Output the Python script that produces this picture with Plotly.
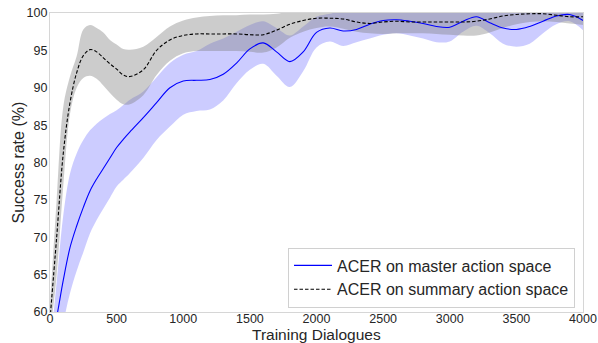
import plotly.graph_objects as go

# Training dialogues (x grid)
x = [0, 50, 100, 150, 200, 250, 300, 350, 400, 450, 500, 550, 600, 700, 800, 900,
     1000, 1100, 1200, 1300, 1400, 1500, 1600, 1700, 1800, 1900, 2000, 2100, 2200,
     2300, 2400, 2500, 2600, 2700, 2800, 2900, 3000, 3100, 3200, 3300, 3400, 3500,
     3600, 3700, 3800, 3900, 4000]

# ACER on master action space
master_mean = [55, 59.3, 64.3, 68.6, 71.5, 74.0, 76.2, 77.8, 79.2, 80.6, 82.0, 83.1, 84.1,
               86.0, 88.0, 90.0, 90.9, 91.0, 91.1, 91.8, 93.3, 95.2, 96.0, 94.8, 93.5,
               94.8, 97.4, 98.0, 97.6, 97.8, 98.5, 99.0, 99.1, 98.9, 98.6, 98.2, 98.1,
               98.9, 99.5, 98.7, 98.0, 97.8, 98.2, 98.9, 99.6, 99.8, 99.0]
master_lower = [48, 53, 58.5, 62.5, 65.5, 68.0, 70.5, 72.3, 73.8, 75.3, 76.8, 77.7, 78.6,
                80.6, 83.0, 84.8, 86.4, 86.9, 87.1, 88.3, 90.6, 92.4, 93.2, 91.6, 90.1,
                92.2, 95.4, 96.2, 95.6, 96.1, 96.6, 97.1, 97.3, 97.0, 96.6, 96.1, 96.2,
                97.5, 98.3, 97.3, 95.9, 95.5, 95.9, 97.3, 98.5, 98.9, 97.7]
master_upper = [55, 64, 73, 78.5, 81.2, 83.0, 84.3, 85.2, 85.9, 86.5, 87.0, 87.7, 88.4,
                89.5, 91.4, 93.3, 94.4, 94.9, 95.9, 96.6, 97.5, 98.4, 98.9, 98.0, 97.0,
                98.2, 99.5, 99.9, 100.3, 100.3, 100.3, 100.3, 100.3, 100.3, 100.3, 100.3,
                100.3, 100.3, 100.3, 100.3, 100.3, 100.3, 100.3, 100.3, 100.3, 100.3, 100.3]

# ACER on summary action space
summary_mean = [59, 70, 81.3, 88.0, 92.0, 94.3, 95.1, 94.8, 94.0, 93.2, 92.5, 91.7, 91.5,
                92.4, 95.0, 96.4, 97.0, 97.2, 97.2, 97.2, 97.2, 97.1, 97.1, 97.7, 98.5,
                99.0, 99.3, 99.3, 99.2, 98.8, 98.6, 98.8, 98.9, 98.8, 98.8, 98.8, 98.8,
                98.8, 98.9, 99.2, 99.6, 99.8, 99.9, 99.9, 99.7, 99.5, 99.5]
summary_lower = [57, 65, 77, 86.5, 90.0, 91.3, 91.6, 91.2, 90.3, 89.3, 88.4, 87.8, 87.8,
                 89.0, 91.7, 93.6, 94.6, 94.9, 94.9, 94.9, 94.9, 94.8, 94.7, 95.4, 96.7,
                 97.5, 98.0, 98.2, 97.9, 97.5, 97.3, 97.2, 97.3, 97.3, 97.3, 97.2, 97.1,
                 97.0, 97.0, 97.4, 98.0, 98.5, 98.8, 98.9, 98.8, 98.6, 98.4]
summary_upper = [61, 75, 87.5, 91.5, 94.2, 97.8, 98.4, 98.0, 97.4, 96.4, 95.8, 95.2, 95.1,
                 95.5, 96.8, 98.2, 99.0, 99.4, 99.6, 99.7, 99.7, 99.8, 99.8, 99.9, 100.2,
                 100.3, 100.3, 100.3, 100.3, 100.3, 100.3, 100.3, 100.3, 100.3, 100.3,
                 100.3, 100.3, 100.3, 100.3, 100.3, 100.3, 100.3, 100.3, 100.3, 100.3,
                 100.3, 100.3]

x_ticks = [0, 500, 1000, 1500, 2000, 2500, 3000, 3500, 4000]
y_ticks = [60, 65, 70, 75, 80, 85, 90, 95, 100]

x_title = "Training Dialogues"
y_title = "Success rate (%)"

FONT = "Liberation Sans, Arial, sans-serif"
TXT = "#262626"

fig = go.Figure()

# master band
fig.add_trace(go.Scatter(x=x, y=master_upper, mode="lines", line=dict(width=0, shape="spline"),
                         showlegend=False, hoverinfo="skip"))
fig.add_trace(go.Scatter(x=x, y=master_lower, mode="lines", line=dict(width=0, shape="spline"),
                         fill="tonexty", fillcolor="rgba(0,0,255,0.2)", showlegend=False,
                         hoverinfo="skip"))
# summary band
fig.add_trace(go.Scatter(x=x, y=summary_upper, mode="lines", line=dict(width=0, shape="spline"),
                         showlegend=False, hoverinfo="skip"))
fig.add_trace(go.Scatter(x=x, y=summary_lower, mode="lines", line=dict(width=0, shape="spline"),
                         fill="tonexty", fillcolor="rgba(128,128,128,0.4)", showlegend=False,
                         hoverinfo="skip"))
# lines
fig.add_trace(go.Scatter(x=x, y=master_mean, mode="lines", name="ACER on master action space",
                         line=dict(color="#0000ff", width=1.1, shape="spline")))
fig.add_trace(go.Scatter(x=x, y=summary_mean, mode="lines", name="ACER on summary action space",
                         line=dict(color="#000000", width=1.1, shape="spline", dash="3.5px,2px")))

fig.update_layout(
    width=598, height=343,
    margin=dict(l=50, r=15, t=13, b=31),
    paper_bgcolor="white", plot_bgcolor="white",
    font=dict(family=FONT, color=TXT, size=12.5),
    legend=dict(x=0.985, y=0.015, xanchor="right", yanchor="bottom",
                bgcolor="white", bordercolor="#d0d0d0", borderwidth=1,
                font=dict(family=FONT, size=16, color=TXT),
                traceorder="normal", tracegroupgap=0, itemwidth=38),
    annotations=[
        dict(text=x_title, xref="paper", yref="paper", x=0.5, y=-0.076,
             xanchor="center", yanchor="middle", showarrow=False,
             font=dict(family=FONT, size=15.5, color=TXT)),
        dict(text=y_title, xref="paper", yref="paper", x=-0.060, y=0.5,
             xanchor="center", yanchor="middle", showarrow=False, textangle=-90,
             font=dict(family=FONT, size=16, color=TXT)),
    ],
)
fig.update_xaxes(range=[0, 4000], tickvals=x_ticks, ticktext=[str(v) for v in x_ticks],
                 showgrid=False, zeroline=False, showline=True, mirror=True,
                 linecolor="#d6d6d6", linewidth=1.2, ticks="", automargin=False,
                 ticklabelstandoff=-5,
                 tickfont=dict(size=12.5, color=TXT))
fig.update_yaxes(range=[60, 100], tickvals=y_ticks, ticktext=[str(v) for v in y_ticks],
                 showgrid=False, zeroline=False, showline=True, mirror=True,
                 linecolor="#d6d6d6", linewidth=1.2, ticks="", automargin=False,
                 ticklabelstandoff=-1,
                 tickfont=dict(size=12.5, color=TXT))

fig.write_html("out.html")
